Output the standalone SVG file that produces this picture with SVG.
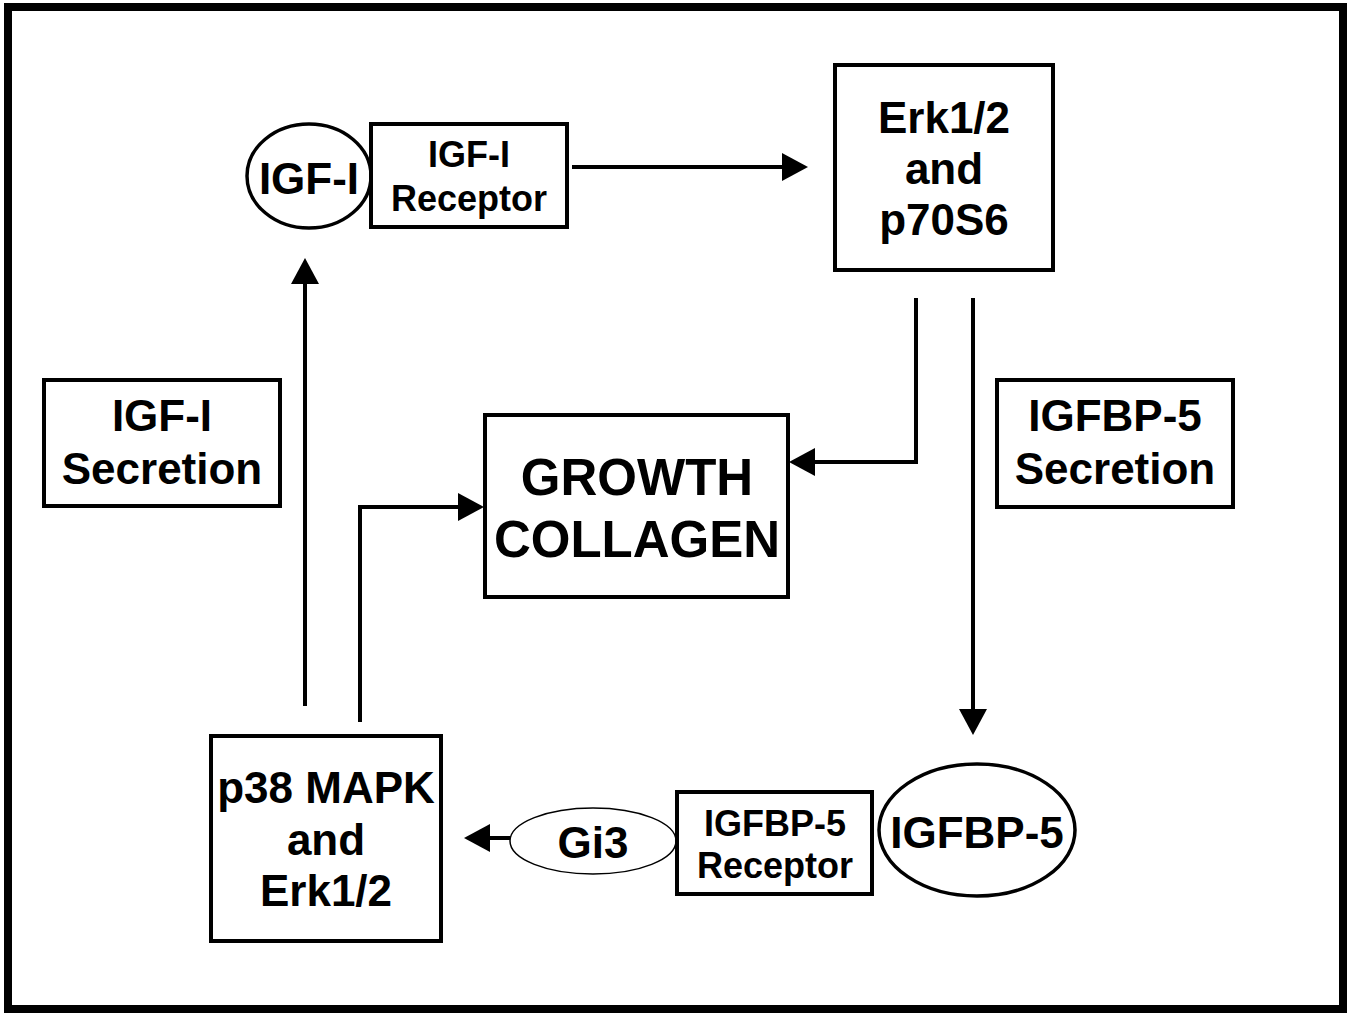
<svg xmlns="http://www.w3.org/2000/svg" width="1353" height="1013" viewBox="0 0 1353 1013">
<defs>
<style>
.box{fill:#fff;stroke:#000;stroke-width:4}
.ell{fill:#fff;stroke:#000;stroke-width:3.5}
.thin{fill:#fff;stroke:#000;stroke-width:1.5}
.t{font-family:"Liberation Sans",Arial,sans-serif;font-weight:bold;fill:#000;text-anchor:middle}
.big{font-size:44px}
.small{font-size:36px}
.huge{font-size:51px}
.con{fill:none;stroke:#000;stroke-width:4;stroke-linejoin:miter}
</style>
<marker id="ah" markerUnits="userSpaceOnUse" markerWidth="28" markerHeight="28" refX="1" refY="14" orient="auto" viewBox="0 0 28 28">
<path d="M0,0 L26,14 L0,28 z" fill="#000"/>
</marker>
</defs>
<rect x="0" y="0" width="1353" height="1013" fill="#fff"/>
<rect x="8" y="7" width="1335" height="1002" fill="none" stroke="#000" stroke-width="8"/>

<g id="connectors">
<path class="con" d="M572,167 H783" marker-end="url(#ah)"/>
<path class="con" d="M916,298 V462 H814" marker-end="url(#ah)"/>
<path class="con" d="M973,298 V710" marker-end="url(#ah)"/>
<path class="con" d="M510,838 H489" marker-end="url(#ah)"/>
<path class="con" d="M305,706 V283" marker-end="url(#ah)"/>
<path class="con" d="M360,722 V507 H459" marker-end="url(#ah)"/>
</g>

<g id="igf1">
<ellipse class="ell" cx="309" cy="176" rx="62" ry="52"/>
<text class="t big" x="309" y="194">IGF-I</text>
</g>
<g id="igf1-receptor">
<rect class="box" x="371" y="124" width="196" height="103"/>
<text class="t small" x="469" y="167">IGF-I</text>
<text class="t small" x="469" y="211">Receptor</text>
</g>
<g id="erk-p70s6">
<rect class="box" x="835" y="65" width="218" height="205"/>
<text class="t big" x="944" y="133">Erk1/2</text>
<text class="t big" x="944" y="184">and</text>
<text class="t big" x="944" y="235">p70S6</text>
</g>
<g id="igf1-secretion">
<rect class="box" x="44" y="380" width="236" height="126"/>
<text class="t big" x="162" y="431">IGF-I</text>
<text class="t big" x="162" y="484">Secretion</text>
</g>
<g id="igfbp5-secretion">
<rect class="box" x="997" y="380" width="236" height="127"/>
<text class="t big" x="1115" y="431">IGFBP-5</text>
<text class="t big" x="1115" y="484">Secretion</text>
</g>
<g id="growth-collagen">
<rect class="box" x="485" y="415" width="303" height="182"/>
<text class="t huge" x="637" y="495">GROWTH</text>
<text class="t huge" x="637" y="557">COLLAGEN</text>
</g>
<g id="p38-erk">
<rect class="box" x="211" y="736" width="230" height="205"/>
<text class="t big" x="326" y="803">p38 MAPK</text>
<text class="t big" x="326" y="855">and</text>
<text class="t big" x="326" y="906">Erk1/2</text>
</g>
<g id="gi3">
<ellipse class="thin" cx="593" cy="841" rx="83" ry="33"/>
<text class="t big" x="593" y="858">Gi3</text>
</g>
<g id="igfbp5-receptor">
<rect class="box" x="677" y="792" width="195" height="102"/>
<text class="t small" x="775" y="836">IGFBP-5</text>
<text class="t small" x="775" y="878">Receptor</text>
</g>
<g id="igfbp5">
<ellipse class="ell" cx="977" cy="830" rx="98" ry="66"/>
<text class="t big" x="977" y="848">IGFBP-5</text>
</g>
</svg>
